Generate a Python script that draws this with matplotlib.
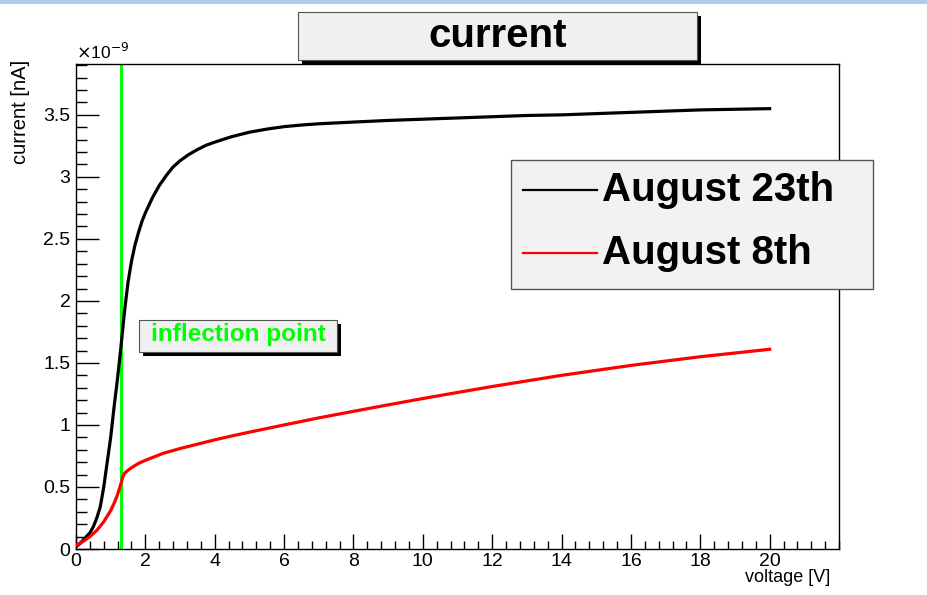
import matplotlib
matplotlib.use("Agg")
import matplotlib.pyplot as plt
from matplotlib.patches import Rectangle
from matplotlib.lines import Line2D
from matplotlib.ticker import MultipleLocator, FormatStrFormatter

plt.rcParams['font.family'] = ['Liberation Sans', 'DejaVu Sans']

# Measured I-V sweeps (current in units of 1e-9 A)
voltage_aug23 = [0.0, 0.1, 0.2, 0.3, 0.4, 0.5, 0.6, 0.7, 0.8, 0.9, 1.0, 1.1, 1.2, 1.3,
                 1.4, 1.5, 1.6, 1.7, 1.8, 1.9, 2.0, 2.2, 2.4, 2.6, 2.8, 3.0, 3.25,
                 3.5, 3.75, 4.0, 4.5, 5.0, 5.5, 6.0, 6.5, 7.0, 7.5, 8.0, 9.0, 10.0,
                 11.0, 12.0, 13.0, 14.0, 15.0, 16.0, 17.0, 18.0, 19.0, 20.0]
current_aug23 = [0.02, 0.04, 0.07, 0.10, 0.13, 0.18, 0.25, 0.34, 0.50, 0.70, 0.90,
                 1.15, 1.38, 1.64, 1.92, 2.15, 2.32, 2.45, 2.55, 2.64, 2.71, 2.83,
                 2.93, 3.01, 3.08, 3.13, 3.18, 3.22, 3.255, 3.28, 3.325, 3.36, 3.385,
                 3.405, 3.418, 3.428, 3.435, 3.442, 3.455, 3.465, 3.475, 3.485, 3.495,
                 3.50, 3.51, 3.52, 3.53, 3.54, 3.545, 3.55]

voltage_aug8 = [0.0, 0.2, 0.4, 0.6, 0.8, 1.0, 1.1, 1.2, 1.3, 1.35, 1.4, 1.5, 1.6, 1.8,
                2.0, 2.5, 3.0, 3.5, 4.0, 4.5, 5.0, 6.0, 7.0, 8.0, 9.0, 10.0, 11.0,
                12.0, 13.0, 14.0, 15.0, 16.0, 17.0, 18.0, 19.0, 20.0]
current_aug8 = [0.03, 0.06, 0.10, 0.15, 0.22, 0.31, 0.37, 0.44, 0.53, 0.58, 0.61,
                0.635, 0.655, 0.69, 0.715, 0.77, 0.81, 0.845, 0.88, 0.912, 0.942,
                1.0, 1.057, 1.11, 1.162, 1.213, 1.262, 1.31, 1.355, 1.40, 1.44, 1.48,
                1.515, 1.55, 1.58, 1.61]

inflection_voltage = 1.3
series_labels = ["August 23th", "August 8th"]
series_colors = ["black", "#ff0000"]

W, H = 927, 595
fig = plt.figure(figsize=(W / 100, H / 100), dpi=100)
fig.patch.set_facecolor("white")

def fx(px):
    return px / W

def fy(py):
    return 1 - py / H

# window strip along the top edge
fig.patches.append(Rectangle((0, fy(4)), 1, 4 / H, transform=fig.transFigure,
                             facecolor="#aecbee", edgecolor="none", zorder=0))

ax = fig.add_axes([fx(76), fy(549), fx(839) - fx(76), fy(64) - fy(549)])
ax.set_xlim(0, 22)
ax.set_ylim(0, 3.91)

ax.plot(voltage_aug23, current_aug23, color=series_colors[0], lw=2.3,
        solid_joinstyle="round", zorder=3)
ax.plot(voltage_aug8, current_aug8, color=series_colors[1], lw=2.3,
        solid_joinstyle="round", zorder=3)
ax.axvline(inflection_voltage, color="#00ff00", lw=2.2, zorder=2)

for s in ax.spines.values():
    s.set_linewidth(1.0)
    s.set_color("black")

ax.xaxis.set_major_locator(MultipleLocator(2))
ax.xaxis.set_minor_locator(MultipleLocator(0.4))
ax.yaxis.set_major_locator(MultipleLocator(0.5))
ax.yaxis.set_minor_locator(MultipleLocator(0.1))
ax.yaxis.set_major_formatter(FormatStrFormatter('%g'))
ax.set_xticks(list(range(0, 21, 2)))
ax.set_xticklabels([str(v) for v in range(0, 21, 2)])
ax.tick_params(axis="x", which="major", direction="in", length=11, width=1,
               labelsize=14, pad=3, top=False)
ax.tick_params(axis="x", which="minor", direction="in", length=5.5, width=1, top=False)
ax.tick_params(axis="y", which="major", direction="in", length=16.5, width=1,
               labelsize=14, pad=4, right=False)
ax.tick_params(axis="y", which="minor", direction="in", length=8, width=1, right=False)

fig.text(fx(76), fy(52), r"$\times$10$^{-9}$", fontsize=12.5, ha="left", va="center")
fig.text(fx(830), fy(578), "voltage [V]", fontsize=13, ha="right", va="center")
fig.text(fx(21), fy(60), "current [nA]", fontsize=14.5, rotation=90,
         ha="center", va="top")

def shadow_box(x0, y0, x1, y1, off):
    fig.patches.append(Rectangle((fx(x0 + off), fy(y1 + off)), (x1 - x0) / W,
                                 (y1 - y0) / H, transform=fig.transFigure,
                                 facecolor="black", edgecolor="none", zorder=5))
    fig.patches.append(Rectangle((fx(x0), fy(y1)), (x1 - x0) / W, (y1 - y0) / H,
                                 transform=fig.transFigure, facecolor="#f0f0f0",
                                 edgecolor="#555555", lw=0.8, zorder=6))

# title pave
shadow_box(298, 12, 697, 60, 4)
fig.text(fx(497.5), fy(36), "current", fontsize=29, fontweight="bold",
         ha="center", va="center", zorder=7)

# annotation pave
shadow_box(139, 320, 337, 352, 4)
fig.text(fx(238), fy(335), "inflection point", fontsize=17.5, fontweight="bold",
         color="#00ff00", ha="center", va="center", zorder=7)

# legend
fig.patches.append(Rectangle((fx(511), fy(289)), (873 - 511) / W, (289 - 160) / H,
                             transform=fig.transFigure, facecolor="#f2f2f2",
                             edgecolor="#555555", lw=1.0, zorder=6))
for i, (lab, col) in enumerate(zip(series_labels, series_colors)):
    yc = 190 + 63 * i
    fig.lines.append(Line2D([fx(523), fx(597)], [fy(yc), fy(yc)],
                            transform=fig.transFigure, color=col, lw=1.6, zorder=7))
    fig.text(fx(602), fy(yc), lab, fontsize=29, fontweight="bold",
             ha="left", va="center", zorder=7)

fig.savefig("out.png", dpi=100)
